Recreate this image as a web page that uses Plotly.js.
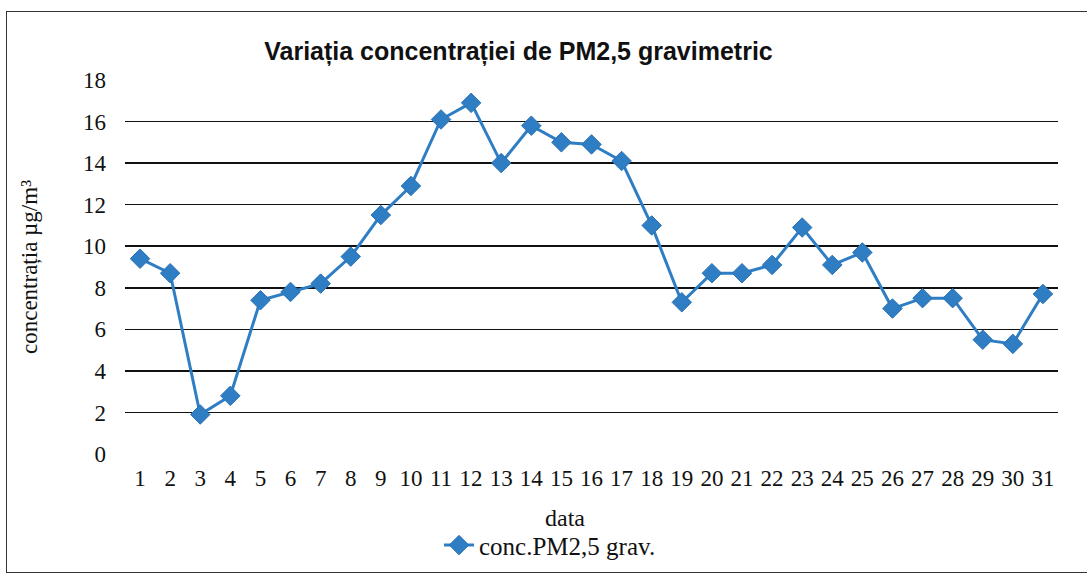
<!DOCTYPE html>
<html>
<head>
<meta charset="utf-8">
<script src="https://cdn.plot.ly/plotly-3.0.1.min.js"></script>
<style>
html,body{margin:0;padding:0;background:#fff;}
#wrap{position:relative;width:1087px;height:582px;overflow:hidden;}
#chart{position:absolute;left:0;top:0;width:1087px;height:582px;}
#frame{position:absolute;left:6px;top:11px;width:1100px;height:562px;border:1.5px solid #333;box-sizing:border-box;pointer-events:none;}
</style>
</head>
<body>
<div id="wrap">
<div id="chart"></div>
<div id="frame"></div>
</div>
<script>
const days = ['1','2','3','4','5','6','7','8','9','10','11','12','13','14','15','16','17','18','19','20','21','22','23','24','25','26','27','28','29','30','31'];
const pm25 = [9.4, 8.7, 1.9, 2.8, 7.4, 7.8, 8.2, 9.5, 11.5, 12.9, 16.1, 16.9, 14.0, 15.8, 15.0, 14.9, 14.1, 11.0, 7.3, 8.7, 8.7, 9.1, 10.9, 9.1, 9.7, 7.0, 7.5, 7.5, 5.5, 5.3, 7.7];
const yTicks = [0, 2, 4, 6, 8, 10, 12, 14, 16, 18];

const serif = 'Liberation Serif, Times New Roman, serif';

const trace = {
  x: days,
  y: pm25,
  type: 'scatter',
  mode: 'lines+markers',
  name: 'conc.PM2,5 grav.',
  line: {color: '#2f7ec4', width: 3},
  marker: {symbol: 'diamond', size: 15, color: '#2f7ec4', line: {color: '#2a72b4', width: 1}}
};

const layout = {
  width: 1087,
  height: 582,
  margin: {l: 125, r: 29, t: 80, b: 128},
  paper_bgcolor: '#ffffff',
  plot_bgcolor: '#ffffff',
  showlegend: true,
  title: {
    text: '<b>Variația concentrației de PM2,5 gravimetric</b>',
    font: {family: 'Liberation Sans, Arial, sans-serif', size: 25, color: '#111'},
    xref: 'container', x: 0.477, xanchor: 'center',
    yref: 'container', y: 0.912, yanchor: 'middle'
  },
  xaxis: {
    type: 'category',
    range: [-0.5, 30.5],
    showgrid: false,
    zeroline: false,
    showline: false,
    ticks: '',
    ticklabelstandoff: 8,
    tickfont: {family: serif, size: 23, color: '#111'}
  },
  yaxis: {
    range: [0, 18],
    tickvals: yTicks,
    ticktext: yTicks.map(String),
    showgrid: true,
    gridcolor: '#111',
    gridwidth: 1.5,
    zeroline: false,
    showline: false,
    ticks: '',
    ticklen: 0,
    ticklabelstandoff: 18,
    tickfont: {family: serif, size: 23, color: '#111'},
    title: {text: 'concentrația µg/m³', font: {family: serif, size: 23, color: '#111'}, standoff: 38}
  },
  annotations: [{
    text: 'data',
    xref: 'paper', x: 0.472, xanchor: 'center',
    yref: 'paper', y: -0.171, yanchor: 'middle',
    showarrow: false,
    font: {family: serif, size: 24, color: '#111'}
  }],
  legend: {
    orientation: 'h',
    xref: 'container', x: 0.506, xanchor: 'center',
    yref: 'container', y: 0.063, yanchor: 'middle',
    font: {family: serif, size: 25, color: '#111'},
    bgcolor: 'rgba(0,0,0,0)'
  }
};

Plotly.newPlot('chart', [trace], layout, {displayModeBar: false, staticPlot: true});
</script>
</body>
</html>
